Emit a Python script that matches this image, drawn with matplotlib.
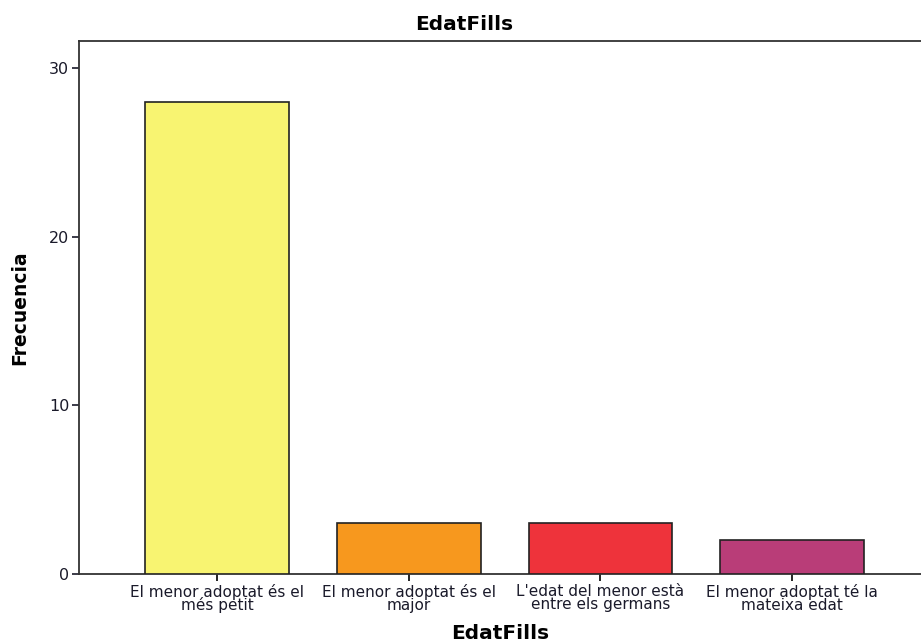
import matplotlib.pyplot as plt
import numpy as np

# data
categories = ["El menor adoptat és el\nmés petit",
              "El menor adoptat és el\nmajor",
              "L'edat del menor està\nentre els germans",
              "El menor adoptat té la\nmateixa edat"]
counts = [28, 3, 3, 2]
colors = ["#F8F471", "#F7981E", "#EE333B", "#B93D78"]
yticks = [0, 10, 20, 30]

fig = plt.figure(figsize=(9.21, 6.44), dpi=100)
ax = fig.add_axes([79/921, 70/644, 1 - 79/921, 533/644])

x = np.arange(len(categories))
ax.bar(x, counts, width=0.75, color=colors, edgecolor="#222222", linewidth=1.2, zorder=3)

ax.set_xlim(-0.72, 3.672)
ax.set_ylim(0, 31.6)
ax.set_yticks(yticks)
ax.set_xticks(x)
ax.set_xticklabels(categories, fontsize=11, linespacing=0.82, color="#1a1a2a")
ax.tick_params(axis="y", labelsize=11.5, colors="#1a1a2a", length=5, width=1.2, pad=2)
ax.tick_params(axis="x", length=5, width=1.2, pad=2)

for s in ["left", "bottom", "top"]:
    ax.spines[s].set_linewidth(1.3)
    ax.spines[s].set_color("#333333")
ax.spines["right"].set_visible(False)

ax.set_ylabel("Frecuencia", fontsize=13.5, fontweight="bold", labelpad=14)
ax.set_xlabel("EdatFills", fontsize=14.5, fontweight="bold", labelpad=8)
fig.text(464/921, 1 - 24/644, "EdatFills", fontsize=14.5, fontweight="bold",
         ha="center", va="center")

fig.savefig("out.png", dpi=100)
